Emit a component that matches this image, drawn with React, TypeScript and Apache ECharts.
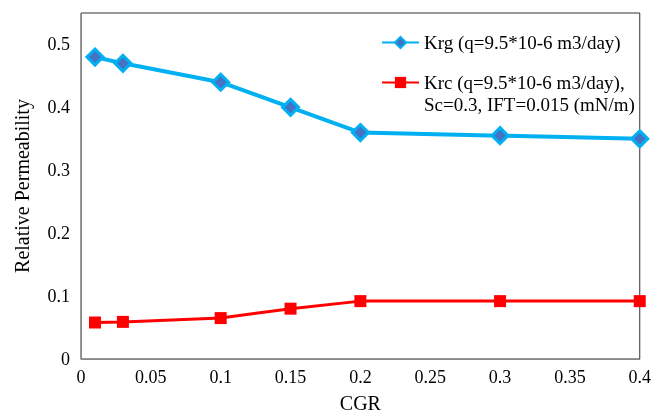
import React, { useEffect, useRef } from "react";
import * as echarts from "echarts";

const cgr = [0.01, 0.03, 0.1, 0.15, 0.2, 0.3, 0.4];
const krg = [0.48, 0.47, 0.44, 0.4, 0.36, 0.355, 0.35];
const krc = [0.058, 0.059, 0.065, 0.08, 0.092, 0.092, 0.092];
const krgName = "Krg (q=9.5*10-6 m3/day)";
const krcName = "Krc (q=9.5*10-6 m3/day),";
const krcName2 = "Sc=0.3, IFT=0.015 (mN/m)";

const FONT = "Liberation Serif";
const tickRich = { t: { fontFamily: FONT, fontSize: 18, color: "#000" } };

export default function App() {
  const ref = useRef<HTMLDivElement>(null);
  useEffect(() => {
    if (!ref.current) return;
    const chart = echarts.init(ref.current, null, { renderer: "svg" });
    chart.setOption({
      animation: false,
      grid: {
        left: 81,
        right: 13,
        top: 13,
        bottom: 55,
        show: true,
        borderColor: "#333",
        borderWidth: 1,
      },
      legend: {
        orient: "vertical",
        left: 381,
        top: 33,
        padding: 0,
        itemWidth: 37,
        itemHeight: 14,
        itemGap: 21,
        textStyle: { fontFamily: FONT, fontSize: 19, color: "#000" },
        data: [krgName, krcName],
      },
      graphic: [
        {
          type: "text",
          left: 424,
          top: 95,
          style: { text: krcName2, fontFamily: FONT, fontSize: 19, fill: "#000" },
        },
      ],
      xAxis: {
        type: "value",
        min: 0,
        max: 0.4,
        interval: 0.05,
        name: "CGR",
        nameLocation: "middle",
        nameGap: 34,
        nameTextStyle: { fontFamily: FONT, fontSize: 20, color: "#000" },
        axisLine: { show: true, lineStyle: { color: "#888", width: 1 } },
        axisTick: { show: false },
        splitLine: { show: false },
        axisLabel: {
          fontFamily: FONT,
          fontSize: 18,
          color: "#000",
          margin: 9,
          formatter: (v: number) => `{t|${Math.round(v * 100) / 100}}`,
          rich: tickRich,
        },
      },
      yAxis: {
        type: "value",
        min: 0,
        max: 0.55,
        interval: 0.1,
        name: "Relative Permeability",
        nameLocation: "middle",
        nameGap: 49,
        nameTextStyle: { fontFamily: FONT, fontSize: 20, color: "#000" },
        axisLine: { show: true, lineStyle: { color: "#888", width: 1 } },
        axisTick: { show: false },
        splitLine: { show: false },
        axisLabel: {
          fontFamily: FONT,
          fontSize: 18,
          color: "#000",
          margin: 11,
          showMaxLabel: false,
          formatter: (v: number) => (v > 0.5 ? "" : `{t|${Math.round(v * 10) / 10}}`),
          rich: tickRich,
        },
      },
      series: [
        {
          name: krgName,
          type: "line",
          data: cgr.map((x, i) => [x, krg[i]]),
          symbol: "diamond",
          symbolSize: 16,
          lineStyle: { color: "#00B0F0", width: 4 },
          itemStyle: { color: "#4472C4", borderColor: "#00B0F0", borderWidth: 3 },
          z: 3,
        },
        {
          name: krcName,
          type: "line",
          data: cgr.map((x, i) => [x, krc[i]]),
          symbol: "rect",
          symbolSize: 12,
          lineStyle: { color: "#FF0000", width: 3 },
          itemStyle: { color: "#FF0000" },
          z: 2,
        },
      ],
    });
    return () => chart.dispose();
  }, []);
  return (
    <div
      ref={ref}
      style={{ position: "fixed", left: 0, top: 0, width: 654, height: 418 }}
    />
  );
}
